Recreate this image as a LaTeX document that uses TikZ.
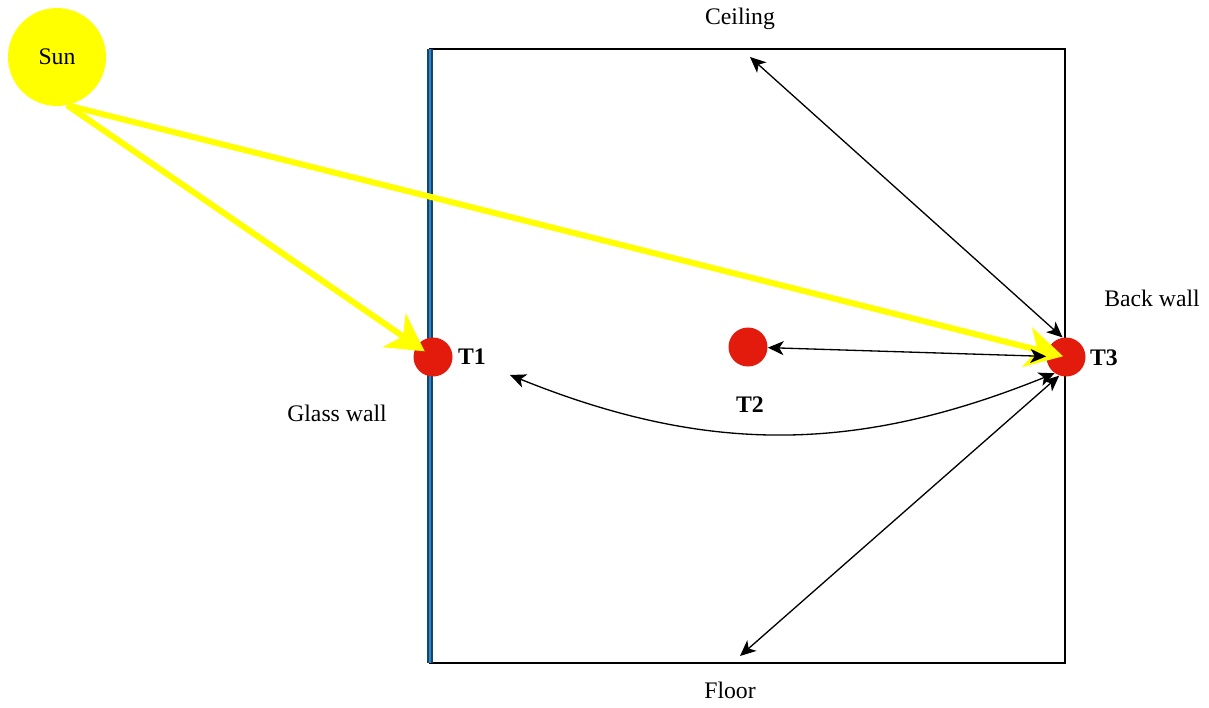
\documentclass[tikz,border=0pt]{standalone}
\usepackage{fontspec}
\setmainfont{Liberation Serif}
\usetikzlibrary{arrows.meta}
\definecolor{sunYellow}{HTML}{FFFF00}
\definecolor{probeRed}{HTML}{E31B0C}
\definecolor{glassBlue}{HTML}{2E86C8}
\definecolor{glassEdge}{HTML}{14456E}
\begin{document}
\begin{tikzpicture}[x=0.02cm,y=-0.02cm,font=\fontsize{13.5}{15}\selectfont,
  probe/.style={circle,fill=probeRed,inner sep=0pt,minimum size=0.78cm},
  tag/.style={font=\fontsize{13.5}{15}\selectfont\bfseries},
  ray/.style={sunYellow,line width=3.4pt,-{Stealth[length=21pt,width=23pt,inset=6pt]}},
  flux/.style={black,line width=0.75pt,{Stealth[length=9pt,width=8pt,inset=2.5pt]}-{Stealth[length=9pt,width=8pt,inset=2.5pt]}}]
\useasboundingbox (0,0) rectangle (1209,707);
% room
\draw[line width=0.6pt] (430,49) rectangle (1065,663);
\draw[glassEdge,line width=3pt] (430,49) -- (430,663);
\draw[glassBlue,line width=1.5pt] (430,49) -- (430,663);
% sun and probes
\node[circle,fill=sunYellow,minimum size=1.96cm,inner sep=0pt] (sun) at (57,57) {Sun};
\node[probe] (t1) at (433,357) {};
\node[probe] (t2) at (748,347) {};
\node[probe] (t3) at (1066,357) {};
\node[tag] (lblT1) at (472,357) {T1};
\node[tag] (lblT2) at (750,405) {T2};
\node[tag] (lblT3) at (1104,358) {T3};
% surfaces
\node (lblCeiling) at (740,19) {Ceiling};
\node (lblFloor) at (730,690) {Floor};
\node (lblGlass) at (337,413) {Glass wall};
\node (lblBack) at (1152,298) {Back wall};
\coordinate (ceilpt) at (750,57);
\coordinate (floorpt) at (740,656);
\coordinate (curvept) at (510,375);
% radiation
\draw[ray,shorten >=0.2cm] (sun.-78) -- (t1.center);
\draw[ray,shorten >=0.06cm] (sun.-78) -- (t3.center);
\draw[flux] (ceilpt) -- (t3.100);
\draw[flux] (floorpt) -- (t3.-110);
\draw[flux] (t2) -- (t3);
\draw[flux] (curvept) to[out=-22,in=-158] (t3.-125);
\end{tikzpicture}
\end{document}
